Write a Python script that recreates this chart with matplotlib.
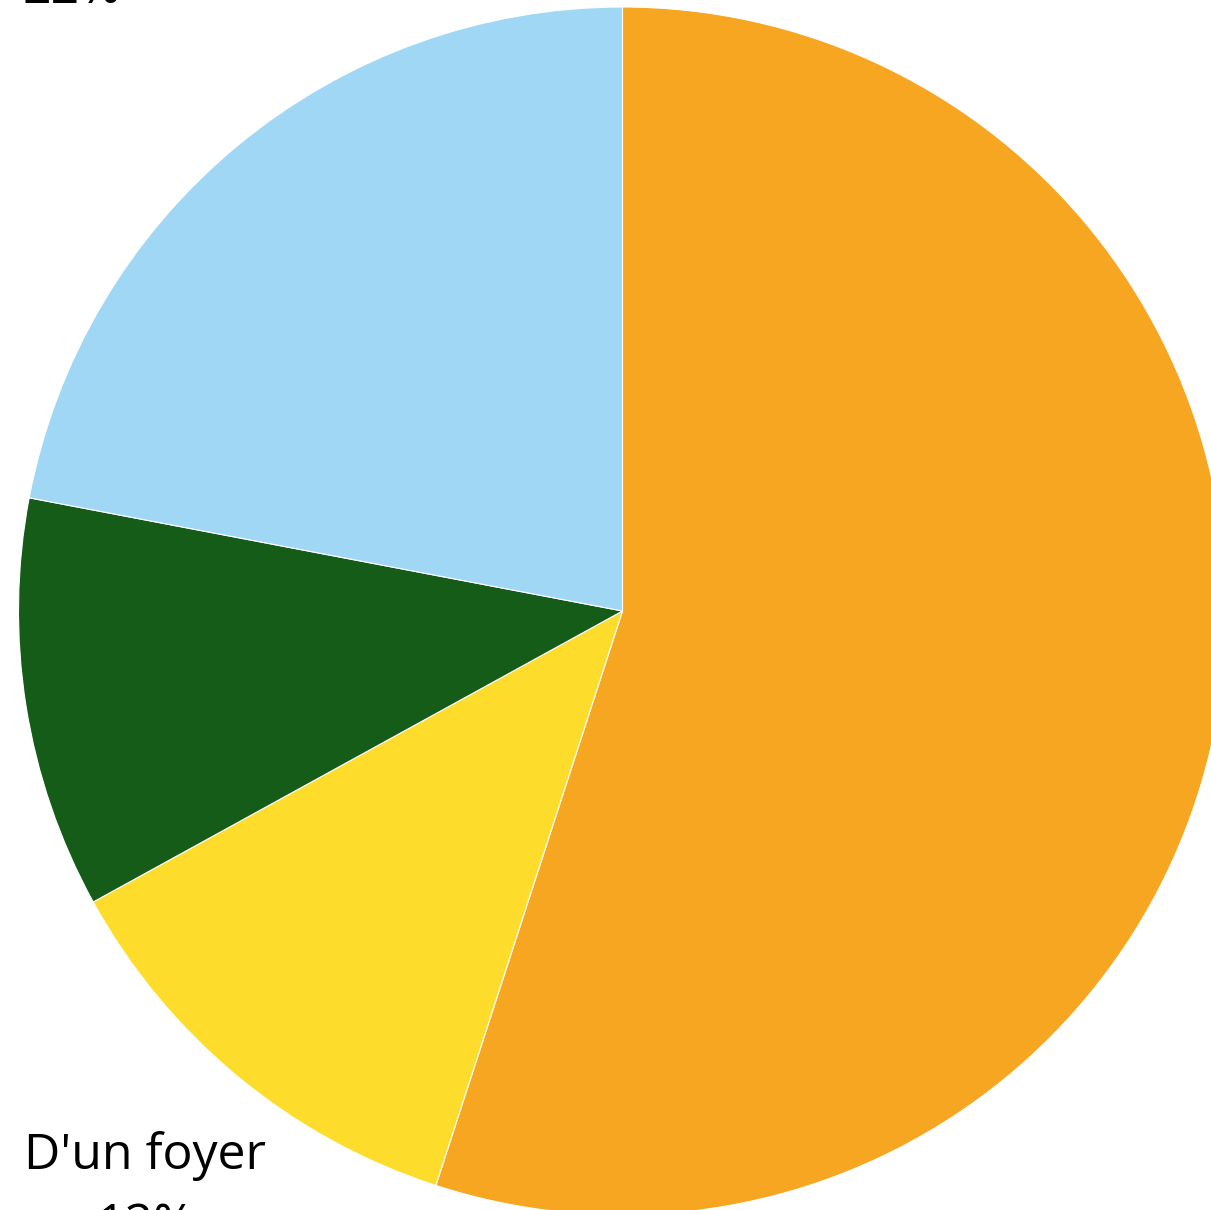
import numpy as np
import matplotlib
matplotlib.use('Agg')
import matplotlib.pyplot as plt

plt.rcParams['font.family'] = ['Open Sans', 'DejaVu Sans']

# données du graphique
noms = ['', "D'un foyer", '', '']
parts = [55, 12, 11, 22]
couleurs = ['#F7A621', '#FDDC2C', '#165C19', '#A0D7F5']

# décalage (px) de la ligne de base du nom par rapport au bord du secteur
decalages = [(150, 35), (-92, -93), (-150, 35), (-166, 213)]
interligne = 70

fig = plt.figure(figsize=(12.11, 12.10), dpi=100)
ax = fig.add_axes([0, 0, 1, 1])

wedges, _ = ax.pie(parts, colors=couleurs, startangle=90, counterclock=False,
                   radius=1, center=(0, 0),
                   wedgeprops=dict(edgecolor='white', linewidth=0.8))

for w, nom, p, (dx, dy) in zip(wedges, noms, parts, decalages):
    ang = np.deg2rad((w.theta1 + w.theta2) / 2)
    pt = (np.cos(ang), np.sin(ang))
    ax.annotate(nom, pt, xytext=(dx, dy), textcoords='offset pixels',
                ha='center', va='baseline', fontsize=36, color='black',
                annotation_clip=False)
    ax.annotate(f"{p}%", pt, xytext=(dx, dy - interligne), textcoords='offset pixels',
                ha='center', va='baseline', fontsize=36, color='black',
                annotation_clip=False)

# cadrage : centre du camembert à (622.5, 611) px, rayon 604 px
r = 604
ax.set_xlim(-622.5 / r, (1211 - 622.5) / r)
ax.set_ylim(-(1210 - 611) / r, 611 / r)
ax.set_aspect('equal')
ax.axis('off')

fig.savefig('out.png', dpi=100)
